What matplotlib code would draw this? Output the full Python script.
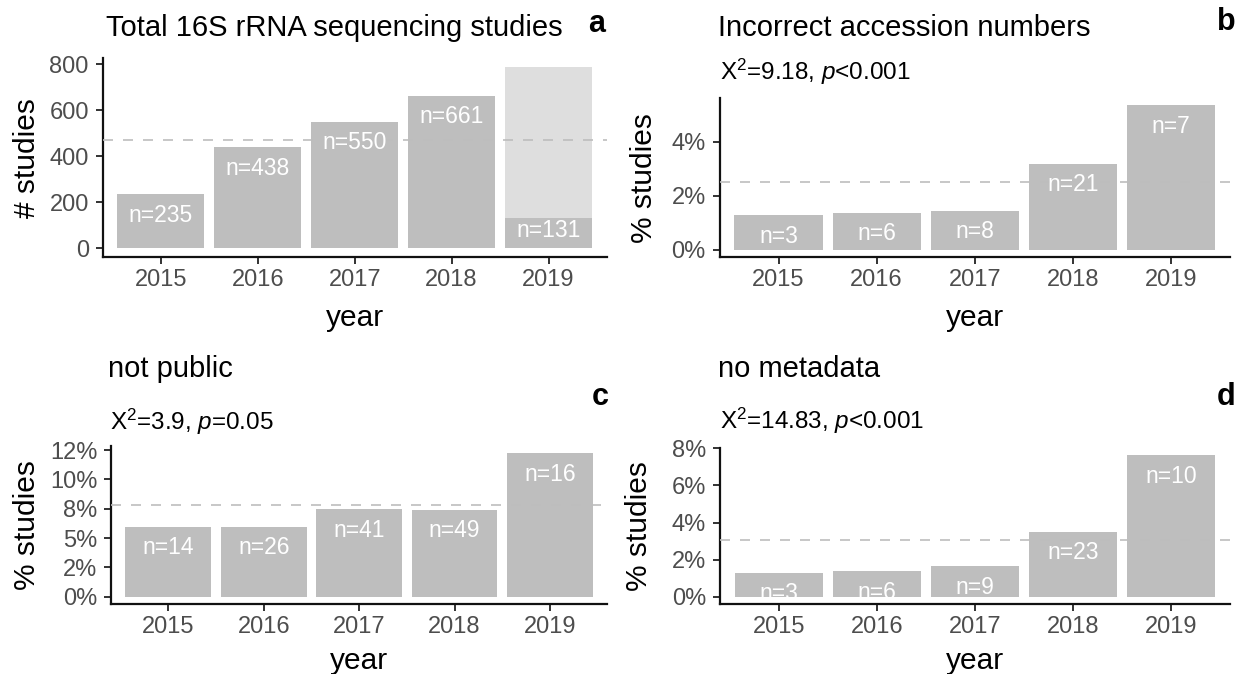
import matplotlib
matplotlib.use("Agg")
import matplotlib.pyplot as plt

plt.rcParams['font.family'] = ['Liberation Sans', 'DejaVu Sans']
plt.rcParams['mathtext.fontset'] = 'custom'
plt.rcParams['mathtext.rm'] = 'Liberation Sans'
plt.rcParams['mathtext.it'] = 'Liberation Sans:italic'
plt.rcParams['mathtext.bf'] = 'Liberation Sans:bold'

# ---------------- data ----------------
years = ['2015', '2016', '2017', '2018', '2019']

total_n = [235, 438, 550, 661, 131]
total_2019_projected = 786
total_mean = 471

incorrect_pct = [1.28, 1.37, 1.45, 3.18, 5.34]
incorrect_n = [3, 6, 8, 21, 7]
incorrect_mean = 2.52

notpublic_pct = [5.96, 5.94, 7.45, 7.41, 12.21]
notpublic_n = [14, 26, 41, 49, 16]
notpublic_mean = 7.81

nometa_pct = [1.28, 1.37, 1.64, 3.48, 7.63]
nometa_n = [3, 6, 9, 23, 10]
nometa_mean = 3.08

titles = ['Total 16S rRNA sequencing studies', 'Incorrect accession numbers',
          'not public', 'no metadata']
stats = [None, r'Χ$^\mathregular{2}$=9.18, $\mathit{p}$<0.001',
         r'Χ$^\mathregular{2}$=3.9, $\mathit{p}$=0.05',
         r'Χ$^\mathregular{2}$=14.83, $\mathit{p}$<0.001']
letters = ['a', 'b', 'c', 'd']
ylabels = ['# studies', '% studies', '% studies', '% studies']

pct_ticks_b = [0, 2, 4]
pct_ticks_c = [0, 2.5, 5, 7.5, 10, 12.5]
pct_labels_c = ['0%', '2%', '5%', '8%', '10%', '12%']
pct_ticks_d = [0, 2, 4, 6, 8]
count_ticks = [0, 200, 400, 600, 800]

# ---------------- layout (pixels) ----------------
W, H = 1241, 674
fig = plt.figure(figsize=(W / 100, H / 100), dpi=100)


def add_ax(left, right, top, bottom):
    return fig.add_axes([left / W, 1 - bottom / H, (right - left) / W, (bottom - top) / H])


BAR = '#BEBEBE'
LIGHT = '#DEDEDE'
TICKC = '#4D4D4D'
x = list(range(1, 6))


def style(ax, ymax):
    for s in ['top', 'right']:
        ax.spines[s].set_visible(False)
    for s in ['left', 'bottom']:
        ax.spines[s].set_linewidth(1.6)
        ax.spines[s].set_color('#111111')
    ax.set_xlim(0.4, 5.6)
    ax.set_ylim(-0.05 * ymax, 1.05 * ymax)
    ax.set_xticks(x)
    ax.set_xticklabels(years)
    ax.tick_params(axis='both', length=5, width=1.3, color='#222222',
                   labelcolor=TICKC, labelsize=17)
    ax.tick_params(axis='x', pad=3.5)
    ax.tick_params(axis='y', pad=5)


def labels(ax, vals, ns, offsets=None):
    for i, (xi, v, n) in enumerate(zip(x, vals, ns)):
        off = -15 if offsets is None else offsets[i]
        ax.annotate(f'n={n}', xy=(xi, v), xytext=(0, off), textcoords='offset points',
                    ha='center', va='center', color='white', fontsize=16.5, zorder=5,
                    annotation_clip=False)


dash = dict(color='#BDBDBD', lw=1.2, ls=(0, (6, 6)), zorder=4)

# Panel a
axa = add_ax(102.7, 606.7, 58.2, 257.4)
axa.bar(x[-1], total_2019_projected, width=0.9, color=LIGHT, zorder=2)
axa.bar(x, total_n, width=0.9, color=BAR, zorder=3)
axa.axhline(total_mean, **dash)
style(axa, total_2019_projected)
axa.set_yticks(count_ticks)
labels(axa, total_n, total_n, offsets=[-15, -15, -15, -15, -9])

# Panel b
axb = add_ax(719.7, 1229.8, 98.0, 257.2)
axb.bar(x, incorrect_pct, width=0.9, color=BAR, zorder=3)
axb.axhline(incorrect_mean, **dash)
style(axb, max(incorrect_pct))
axb.set_yticks(pct_ticks_b)
axb.set_yticklabels([f'{t}%' for t in pct_ticks_b])
labels(axb, incorrect_pct, incorrect_n)

# Panel c
axc = add_ax(111.1, 607.2, 446.3, 603.9)
axc.bar(x, notpublic_pct, width=0.9, color=BAR, zorder=3)
axc.axhline(notpublic_mean, **dash)
style(axc, max(notpublic_pct))
axc.set_yticks(pct_ticks_c)
axc.set_yticklabels(pct_labels_c)
labels(axc, notpublic_pct, notpublic_n)

# Panel d
axd = add_ax(720.0, 1229.8, 448.1, 603.8)
axd.bar(x, nometa_pct, width=0.9, color=BAR, zorder=3)
axd.axhline(nometa_mean, **dash)
style(axd, max(nometa_pct))
axd.set_yticks(pct_ticks_d)
axd.set_yticklabels([f'{t}%' for t in pct_ticks_d])
labels(axd, nometa_pct, nometa_n)


def ftext(px, py, s, **kw):
    fig.text(px / W, 1 - py / H, s, **kw)


# titles (baseline positions)
ftext(106, 36, titles[0], fontsize=21, va='baseline', ha='left')
ftext(718, 36, titles[1], fontsize=21, va='baseline', ha='left')
ftext(108, 377, titles[2], fontsize=21, va='baseline', ha='left')
ftext(718, 377, titles[3], fontsize=21, va='baseline', ha='left')
# stats
ftext(720, 80, stats[1], fontsize=17.5, va='baseline', ha='left')
ftext(110, 430, stats[2], fontsize=17.5, va='baseline', ha='left')
ftext(720, 429, stats[3], fontsize=17.5, va='baseline', ha='left')
# panel letters
ftext(597, 31.5, letters[0], fontsize=22, fontweight='bold', va='baseline', ha='center')
ftext(1226, 30, letters[1], fontsize=22, fontweight='bold', va='baseline', ha='center')
ftext(600, 405, letters[2], fontsize=22, fontweight='bold', va='baseline', ha='center')
ftext(1226, 405, letters[3], fontsize=22, fontweight='bold', va='baseline', ha='center')
# y labels
ftext(27, 157.8, ylabels[0], fontsize=21.5, rotation=90, va='center', ha='center')
ftext(644, 177.6, ylabels[1], fontsize=21.5, rotation=90, va='center', ha='center')
ftext(27, 525, ylabels[2], fontsize=21.5, rotation=90, va='center', ha='center')
ftext(639, 526, ylabels[3], fontsize=21.5, rotation=90, va='center', ha='center')
# x labels
ftext((102.7 + 606.7) / 2, 318, 'year', fontsize=21.5, va='center', ha='center')
ftext((719.7 + 1229.8) / 2, 318, 'year', fontsize=21.5, va='center', ha='center')
ftext((111.1 + 607.2) / 2, 661, 'year', fontsize=21.5, va='center', ha='center')
ftext((720 + 1229.8) / 2, 661, 'year', fontsize=21.5, va='center', ha='center')

fig.savefig('out.png', dpi=100, facecolor='white')
